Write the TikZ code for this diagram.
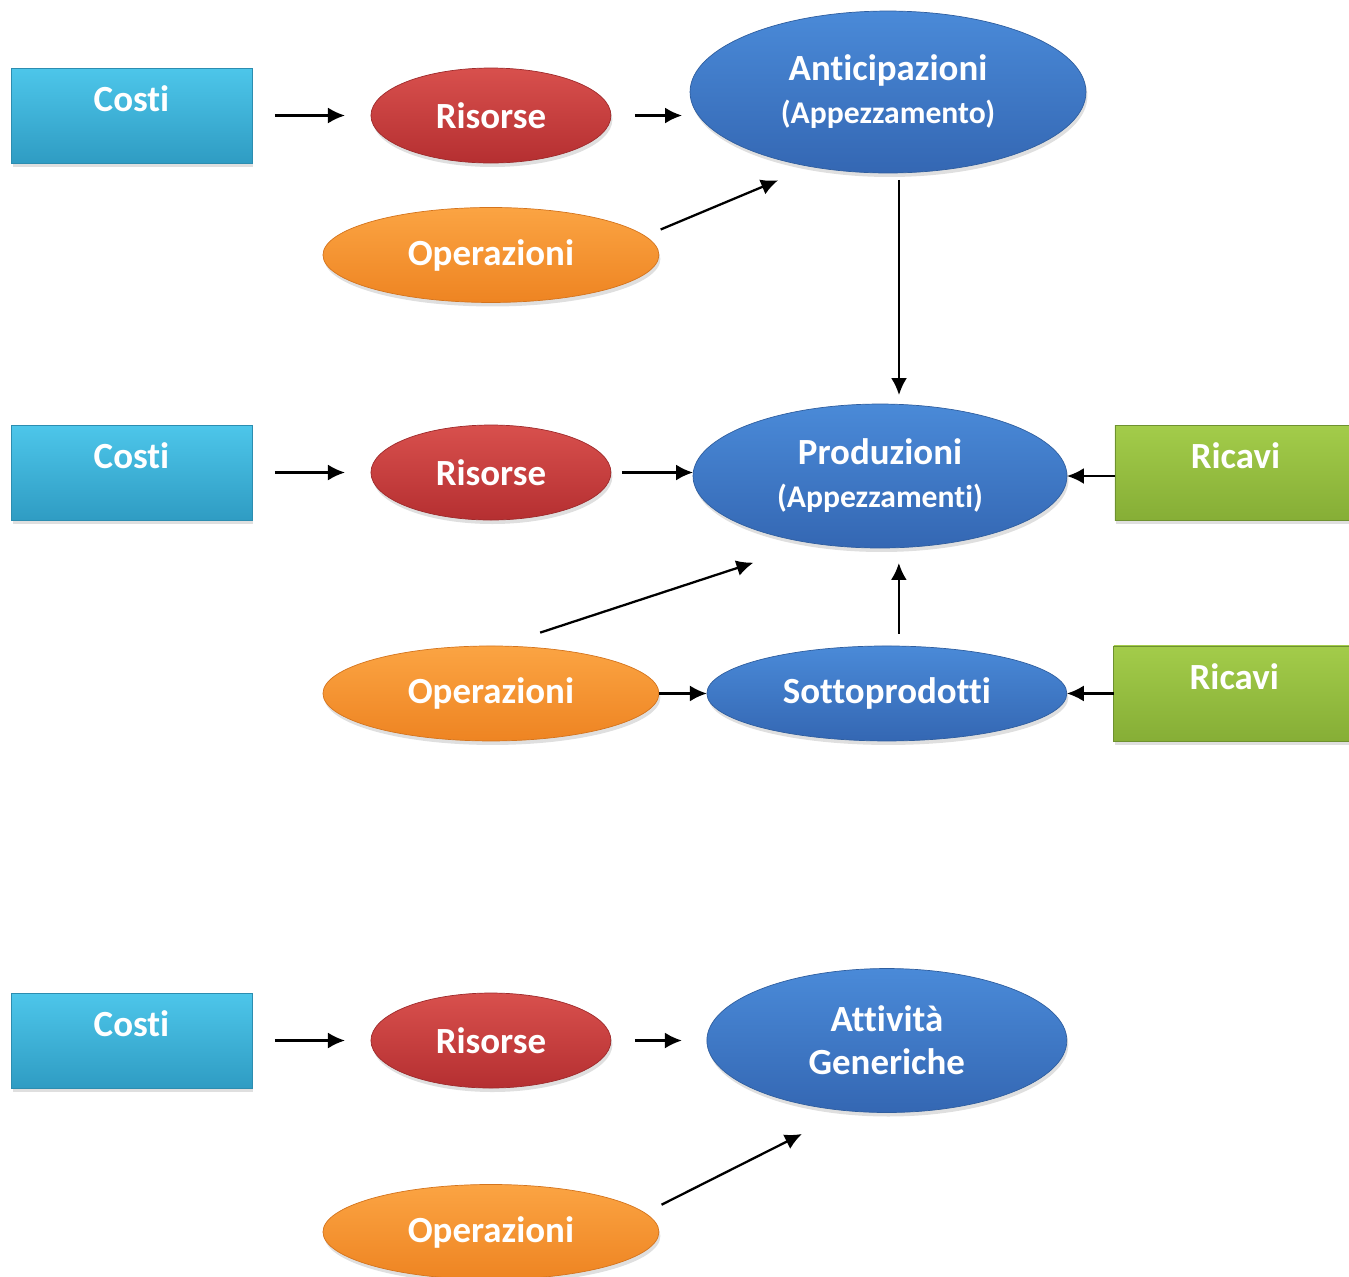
\documentclass[tikz,border=0pt]{standalone}
\usepackage{fontspec}
\setmainfont[Ligatures={NoCommon}]{Carlito}
\usetikzlibrary{positioning,shapes.geometric,arrows.meta,shadows}

\definecolor{costitop}{HTML}{4DC6EA}
\definecolor{costibot}{HTML}{2F9CC3}
\definecolor{costiedge}{HTML}{2C8DB0}
\definecolor{ristop}{HTML}{D8504D}
\definecolor{risbot}{HTML}{B52F31}
\definecolor{risedge}{HTML}{9E2A2B}
\definecolor{optop}{HTML}{FBA443}
\definecolor{opbot}{HTML}{EE8422}
\definecolor{opedge}{HTML}{D4741D}
\definecolor{blutop}{HTML}{4A8AD8}
\definecolor{blubot}{HTML}{3467B3}
\definecolor{bluedge}{HTML}{2F5E9F}
\definecolor{rictop}{HTML}{A3CC4A}
\definecolor{ricbot}{HTML}{86AE36}
\definecolor{ricedge}{HTML}{6E9130}

\begin{document}
\begin{tikzpicture}[
  x=0.02cm, y=-0.02cm,
  every node/.style={outer sep=0pt, inner sep=0pt, text=white, align=center,
    font=\fontsize{21}{24.5}\selectfont\bfseries},
  dropsh/.style={drop shadow={shadow xshift=0.03cm, shadow yshift=-0.08cm, opacity=0.25}},
  costbox/.style={rectangle, dropsh, minimum width=4.82cm, minimum height=1.9cm,
    text height=14pt, text depth=18.4pt, top color=costitop, bottom color=costibot, draw=costiedge},
  ricbox/.style={rectangle, dropsh, minimum width=4.82cm, minimum height=1.9cm,
    text height=14pt, text depth=18.4pt, top color=rictop, bottom color=ricbot, draw=ricedge},
  res/.style={ellipse, dropsh, minimum width=4.8cm, minimum height=1.9cm,
    top color=ristop, bottom color=risbot, draw=risedge},
  oper/.style={ellipse, dropsh, minimum width=6.72cm, minimum height=1.9cm,
    top color=optop, bottom color=opbot, draw=opedge},
  blob/.style={ellipse, dropsh, top color=blutop, bottom color=blubot, draw=bluedge},
  flow/.style={-{Latex[length=0.34cm,width=0.32cm]}, line width=1.3pt, black}
]
\useasboundingbox (0,0) rectangle (1349,1276);

% first row
\node[costbox] (costi1) at (131.5,115.5) {Costi};
\node[res, right=2.38cm of costi1] (ris1) {Risorse};
\node[oper, below=0.89cm of ris1] (op1) {Operazioni};
\node[blob, minimum width=7.92cm, minimum height=3.24cm] (ant) at (888,92)
  {Anticipazioni\\{\fontsize{18}{21}\selectfont(Appezzamento)}};

% second row
\node[costbox] (costi2) at (131.5,472.5) {Costi};
\node[res, right=2.38cm of costi2] (ris2) {Risorse};
\node[blob, minimum width=7.48cm, minimum height=2.88cm] (prod) at (880,476)
  {Produzioni\\{\fontsize{18}{21}\selectfont(Appezzamenti)}};
\node[ricbox, right=0.96cm of prod, yshift=0.07cm] (ric1) {Ricavi};
\node[oper, below=2.52cm of ris2] (op2) {Operazioni};
\node[blob, minimum width=7.2cm, minimum height=1.9cm, right=0.96cm of op2] (sot) {Sottoprodotti};
\node[ricbox, right=0.94cm of sot] (ric2) {Ricavi};

% third row
\node[costbox] (costi3) at (131.5,1040.5) {Costi};
\node[res, right=2.38cm of costi3] (ris3) {Risorse};
\node[blob, minimum width=7.2cm, minimum height=2.88cm, right=1.92cm of ris3] (att) {Attività\\Generiche};
\node[oper, below=1.93cm of ris3] (op3) {Operazioni};

\coordinate (antfoot) at ([xshift=0.22cm]ant.south);
\coordinate (prodtop) at (antfoot |- prod.north);
\coordinate (sottop) at ([xshift=0.24cm]sot.north);
\coordinate (prodfoot) at (sottop |- prod.south);

\path (costi1) edge[flow, shorten <=0.46cm, shorten >=0.52cm] (ris1)
(ris1.east) edge[flow, shorten <=0.48cm, shorten >=0.16cm] (ris1.east -| ant.west)
(op1.7.3) edge[flow, shorten <=0.34cm, shorten >=0.71cm] (ant.224)
(antfoot) edge[flow, shorten <=0.14cm, shorten >=0.18cm] (prodtop)
(costi2) edge[flow, shorten <=0.46cm, shorten >=0.52cm] (ris2)
(ris2.east) edge[flow, shorten <=0.22cm] (ris2.east -| prod.west)
(prod.east -| ric1.west) edge[flow] (prod.east)
(op2.80.3) edge[flow, shorten <=0.86cm, shorten >=1.25cm] (prod.225.35)
(sottop) edge[flow, shorten <=0.24cm, shorten >=0.3cm] (prodfoot)
(op2) edge[flow] (sot)
(ric2) edge[flow] (sot)
(costi3) edge[flow, shorten <=0.46cm, shorten >=0.52cm] (ris3)
(ris3) edge[flow, shorten <=0.48cm, shorten >=0.5cm] (att)
(op3.7.4) edge[flow, shorten <=0.37cm, shorten >=1.03cm] (att.241);
\end{tikzpicture}
\end{document}
